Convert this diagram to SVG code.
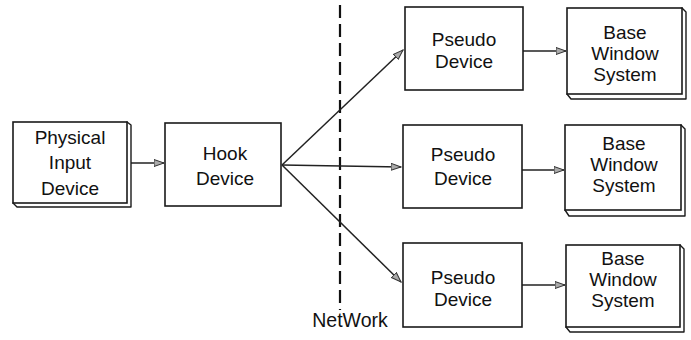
<svg xmlns="http://www.w3.org/2000/svg" width="691" height="340" viewBox="0 0 691 340">
<defs>
<style>
.box{fill:#fff;stroke:#1a1a1a;stroke-width:1.6}
.ext{fill:#fff;stroke:#1a1a1a;stroke-width:1.4;stroke-linejoin:round}
.t{font-family:"Liberation Sans",Arial,sans-serif;font-size:19px;fill:#111;text-anchor:middle}
.c{fill:none;stroke:#222;stroke-width:1.5}
.net{fill:none;stroke:#111;stroke-width:2.2;stroke-dasharray:13 6}
</style>
<marker id="ah" markerWidth="12" markerHeight="10" refX="10" refY="4" orient="auto" markerUnits="userSpaceOnUse">
<path d="M0,0.5 L10,4 L0,7.5 Z" fill="#aaa" stroke="#333" stroke-width="1"/>
</marker>
</defs>
<rect width="691" height="340" fill="#fff"/>

<g id="connectors">
<line class="net" x1="340" y1="5" x2="340" y2="310"/>
<line class="c" x1="130" y1="163" x2="164" y2="163" marker-end="url(#ah)"/>
<line class="c" x1="282" y1="165" x2="403" y2="50" marker-end="url(#ah)"/>
<line class="c" x1="282" y1="165" x2="401" y2="167" marker-end="url(#ah)"/>
<line class="c" x1="282" y1="165" x2="401" y2="282" marker-end="url(#ah)"/>
<line class="c" x1="523" y1="51" x2="566" y2="51" marker-end="url(#ah)"/>
<line class="c" x1="522" y1="170" x2="564" y2="170" marker-end="url(#ah)"/>
<line class="c" x1="522" y1="285" x2="565" y2="285" marker-end="url(#ah)"/>
</g>

<g id="physical">
<path class="ext" d="M127,122 L131,125 L131,207 L17,207 L13,203 Z"/>
<rect class="box" x="13" y="122" width="114" height="81"/>
<text class="t" x="70" y="144">Physical</text>
<text class="t" x="70" y="169">Input</text>
<text class="t" x="70" y="195">Device</text>
</g>

<g id="hook">
<rect class="box" x="165" y="123" width="116" height="83"/>
<text class="t" x="225" y="160">Hook</text>
<text class="t" x="225" y="185">Device</text>
</g>

<g id="pseudo1">
<rect class="box" x="405" y="7" width="118" height="83"/>
<text class="t" x="464" y="46">Pseudo</text>
<text class="t" x="464" y="68">Device</text>
</g>
<g id="pseudo2">
<rect class="box" x="403" y="125" width="119" height="83"/>
<text class="t" x="463" y="161">Pseudo</text>
<text class="t" x="463" y="185">Device</text>
</g>
<g id="pseudo3">
<rect class="box" x="403" y="243" width="119" height="84"/>
<text class="t" x="463" y="284">Pseudo</text>
<text class="t" x="463" y="306">Device</text>
</g>

<g id="base1">
<path class="ext" d="M682,8 L686,12 L686,99 L571,99 L567,94 Z"/>
<rect class="box" x="567" y="8" width="115" height="86"/>
<text class="t" x="625" y="39">Base</text>
<text class="t" x="625" y="60">Window</text>
<text class="t" x="625" y="81">System</text>
</g>
<g id="base2">
<path class="ext" d="M681,125 L685,129 L685,216 L569,216 L565,210 Z"/>
<rect class="box" x="565" y="125" width="116" height="85"/>
<text class="t" x="624" y="150">Base</text>
<text class="t" x="624" y="171">Window</text>
<text class="t" x="624" y="192">System</text>
</g>
<g id="base3">
<path class="ext" d="M680,245 L684,249 L684,332 L570,332 L566,327 Z"/>
<rect class="box" x="566" y="245" width="114" height="82"/>
<text class="t" x="623" y="265">Base</text>
<text class="t" x="623" y="286">Window</text>
<text class="t" x="623" y="307">System</text>
</g>

<text class="t" x="350" y="327" style="font-size:19.5px">NetWork</text>
</svg>
